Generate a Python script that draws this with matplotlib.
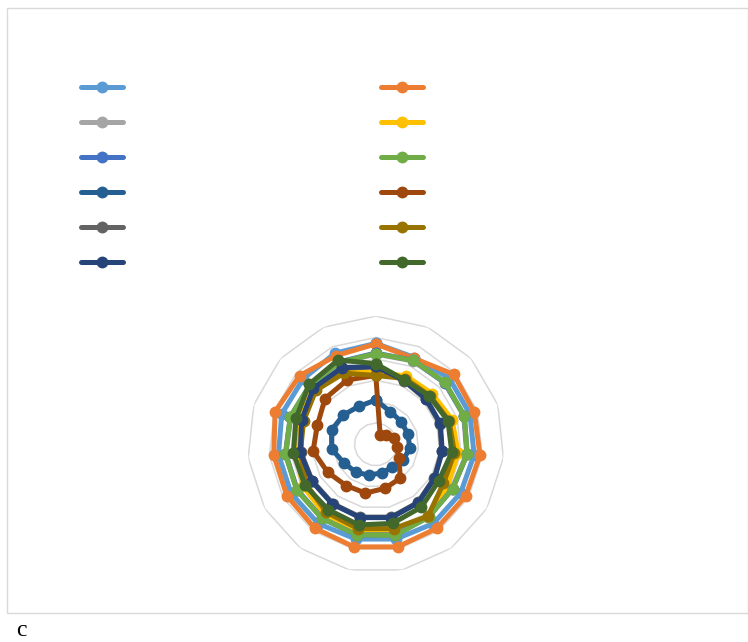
import numpy as np
import matplotlib.pyplot as plt
from matplotlib.patches import Rectangle

# 15 spokes, unlabeled; radial scale 0-120 with a ring every 20
ring_levels = [20, 40, 60, 80, 100, 120]

s01 = [94.5, 89, 92.5, 92.5, 92.5, 91.5, 91.5, 90.5, 90.5, 91.5, 91.5, 91.5, 92.5, 91.5, 93.5]
s02 = [94, 88, 98, 97, 98, 97, 97, 98, 98, 97, 96, 96, 99, 96, 91]
s03 = [84.5, 85.5, 86.5, 86.5, 85.5, 82.5, 83.5, 86.5, 86, 85, 85, 84.5, 83.5, 82.5, 83.5]
s04 = [67.5, 70, 71, 75, 77.5, 77.5, 83.5, 83, 83, 81, 78.5, 75, 75, 78.5, 75.5]
s05 = [85.5, 86, 86.5, 87, 86, 83, 84, 86.5, 86.5, 85.5, 85, 85, 84, 83, 84.5]
s06 = [85, 86, 87, 87, 86, 83, 84, 87, 86.5, 85.5, 85.5, 85, 84, 83, 84]
s07 = [41.5, 33.5, 32, 31.5, 32, 29.5, 26.5, 27, 29.5, 32, 34.5, 41.5, 43.5, 41, 39]
s08 = [64.5, 10, 13, 18, 19.5, 25, 39, 42, 46.5, 47.5, 52, 59, 57.5, 64, 66]
s09 = [72.5, 65, 63, 63, 62, 63, 67, 69.5, 69.5, 68.5, 68.5, 70.5, 72.5, 78, 78]
s10 = [64.5, 67.5, 68, 72, 74, 73, 83, 80.5, 80.5, 78.5, 75, 71, 71, 75.5, 73]
s11 = [73, 65.5, 63.5, 63.5, 62.5, 63.5, 67.5, 70, 70, 69, 69, 71, 73, 78.5, 78.5]
s12 = [75.5, 66, 67.5, 71, 71.5, 68, 72.5, 75.5, 77, 75.5, 76.5, 77.5, 78.5, 84, 86.5]

series = [s01, s02, s03, s04, s05, s06, s07, s08, s09, s10, s11, s12]
colors = ['#5B9BD5', '#ED7D31', '#A5A5A5', '#FFC000', '#4472C4', '#70AD47',
          '#255E91', '#9E480E', '#636363', '#997300', '#264478', '#43682B']

fig = plt.figure(figsize=(7.48, 6.42), dpi=100)

# chart area border
fig.add_artist(Rectangle((7 / 748, 1 - 613 / 642), 741 / 748, 605 / 642,
                         transform=fig.transFigure, fill=False,
                         edgecolor='#D9D9D9', linewidth=1))

ax = fig.add_axes([0.3309, 0.1079, 0.343, 0.3997], projection='polar')
ax.set_theta_zero_location('N')
ax.set_theta_direction(-1)
ax.set_ylim(0, 120)
ax.grid(False)
ax.spines['polar'].set_visible(False)
ax.set_xticks([])
ax.set_yticks([])
ax.patch.set_alpha(0)

n = len(s01)
theta = np.linspace(0, 2 * np.pi, n, endpoint=False)
theta_closed = np.append(theta, theta[0])

# polygon gridlines
for r in ring_levels:
    ax.plot(theta_closed, [r] * (n + 1), color='#D9D9D9', linewidth=1.1, zorder=0)

handles = []
for vals, c in zip(series, colors):
    line, = ax.plot(theta_closed, vals + vals[:1], color=c, linewidth=3.6,
                    marker='o', markersize=7.5, solid_joinstyle='round',
                    solid_capstyle='round', clip_on=False)
    handles.append(line)

# two legend columns: odd series left, even series right
order = [0, 2, 4, 6, 8, 10, 1, 3, 5, 7, 9, 11]
fig.legend([handles[i] for i in order], [''] * 12, ncol=2,
           loc='upper left', bbox_to_anchor=(81 / 748, 1 - 81 / 642),
           frameon=False, fontsize=10, handlelength=3.0, handletextpad=0,
           columnspacing=18.6, labelspacing=1.51, borderpad=0, borderaxespad=0)

fig.text(16 / 748, 1 - 631 / 642, 'c', fontfamily='Liberation Serif',
         fontsize=17, va='center', ha='left')

fig.savefig('out.png', dpi=100)
